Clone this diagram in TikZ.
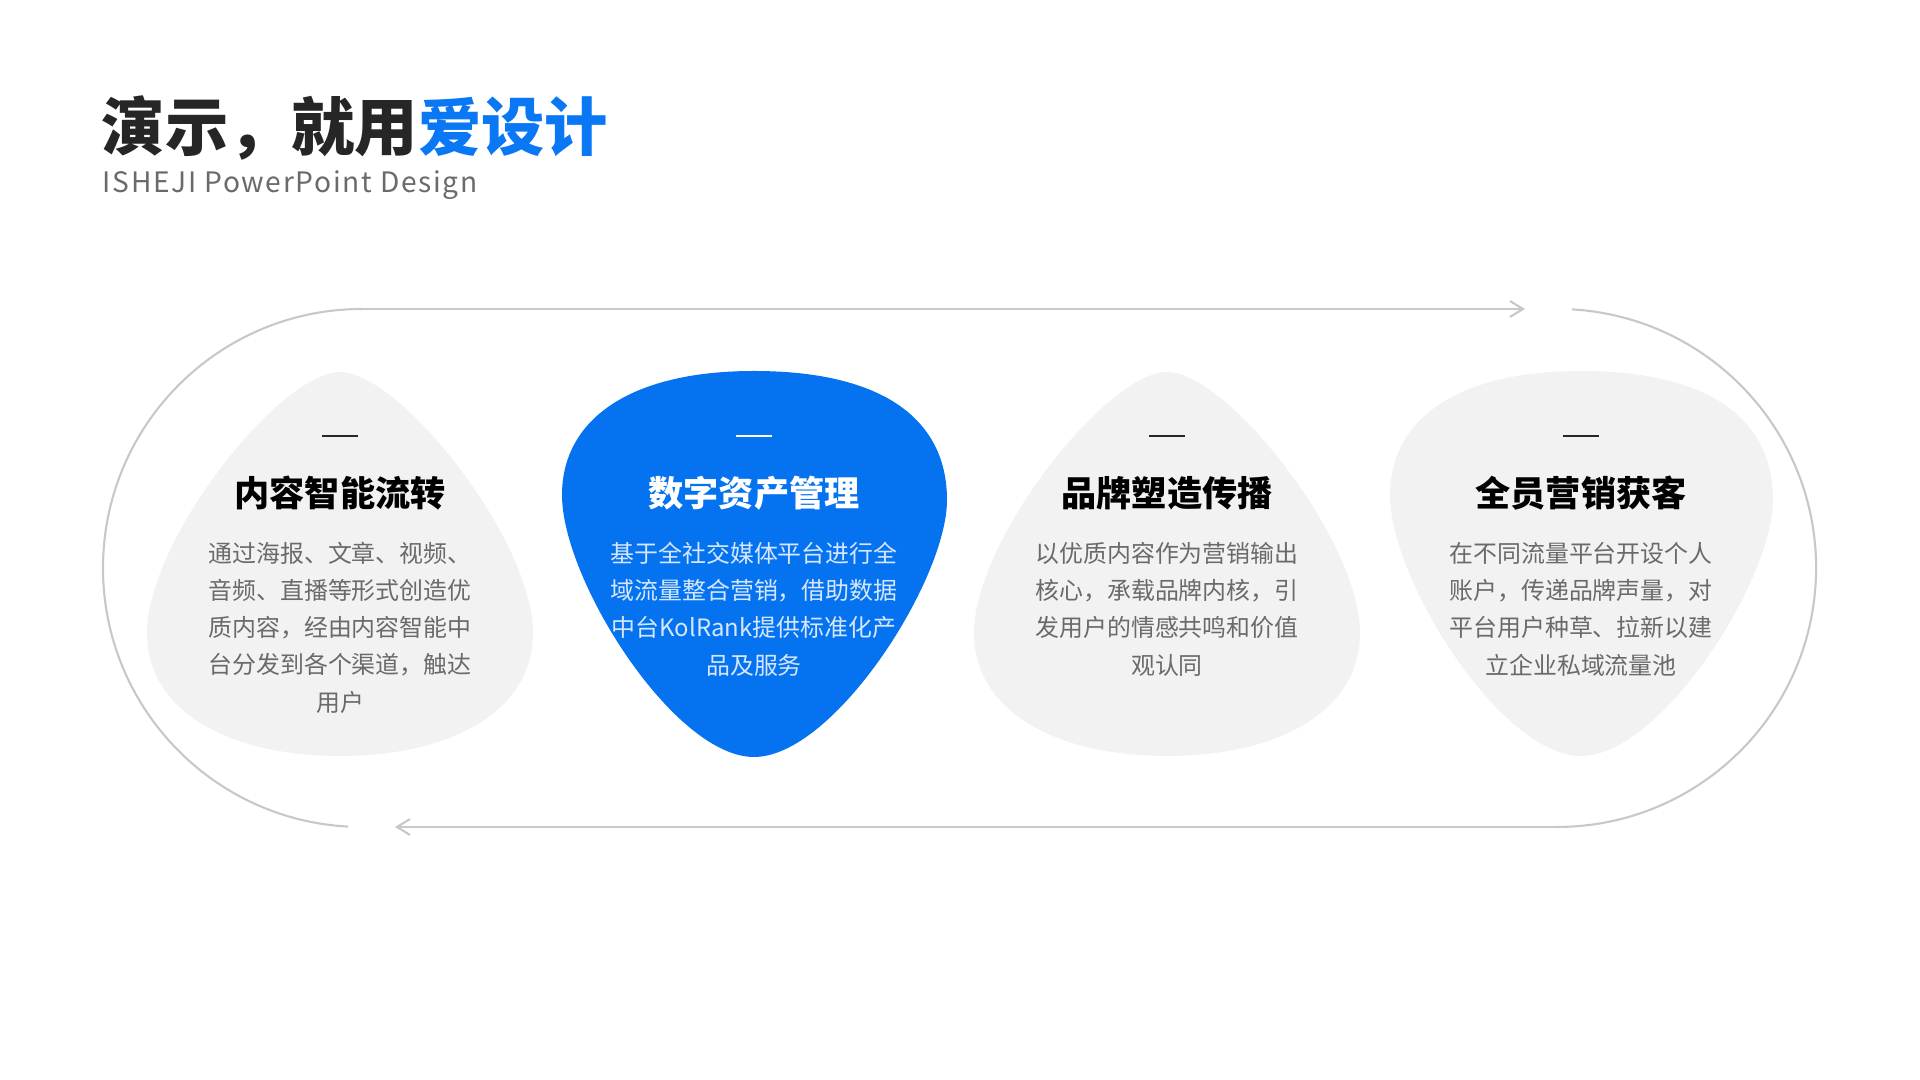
\documentclass[tikz,border=0pt]{standalone}
\usepackage{fontspec}
\setmainfont{Noto Sans CJK SC}
\usetikzlibrary{arrows.meta}
\definecolor{accent}{HTML}{0A78F5}
\definecolor{blobblue}{HTML}{0573F0}
\definecolor{blobgray}{HTML}{F2F2F2}
\definecolor{ringgray}{HTML}{C8C8C8}
\definecolor{ink}{HTML}{262626}
\definecolor{bodygray}{HTML}{6A6A6A}
\definecolor{bodylight}{HTML}{D6E7FD}
\begin{document}
\begin{tikzpicture}[x=0.01cm, y=-0.01cm,
    ring/.style = {draw=ringgray, line width=0.6pt},
    flow/.style = {ring, -{Straight Barb[length=0.13cm, width=0.16cm]}},
    head/.style = {inner sep=0, font=\fontsize{10pt}{12pt}\selectfont\bfseries},
    body/.style = {inner sep=0, align=center, font=\fontsize{6.8pt}{10.6pt}\selectfont},
    bar/.style = {line width=0.7pt}]
    \useasboundingbox (0,0) rectangle (1920,1080);
    \node[inner sep=0, anchor=base west, text=ink, font=\fontsize{18pt}{21pt}\selectfont\bfseries] (title) at (101,151) {演示，就用\textcolor{accent}{爱设计}};
    \node[inner sep=0, anchor=base west, text=bodygray, font=\fontsize{8pt}{10pt}\selectfont\addfontfeature{LetterSpace=6}] (subtitle) at (102,193) {ISHEJI PowerPoint Design};
    \coordinate (topl) at (362,309);
    \coordinate (topr) at (1525,309);
    \coordinate (arcr) at (1572,309.4);
    \coordinate (botr) at (1557,827);
    \coordinate (botl) at (395,827);
    \coordinate (arcl) at (348,826.6);
    \draw[flow] (topl) -- (topr);
    \draw[ring] (arcr) arc[start angle=-86.7, end angle=90, radius=259];
    \draw[flow] (botr) -- (botl);
    \draw[ring] (arcl) arc[start angle=93.1, end angle=270, radius=259];
    \begin{scope}[shift={(340,0)}]
        \fill[blobgray] (0,372) .. controls (60,372) and (193,540) .. (193,633) .. controls (193,712) and (110,756) .. (0,756) .. controls (-110,756) and (-193,712) .. (-193,633) .. controls (-193,540) and (-60,372) .. (0,372);
        \draw[bar, ink] (-18,436) -- (18,436);
    \end{scope}
    \begin{scope}[shift={(754,0)}]
        \fill[blobblue] (0,371) .. controls (130,371) and (193,420) .. (193,500) .. controls (193,580) and (80,757) .. (0,757) .. controls (-80,757) and (-192,580) .. (-192,495) .. controls (-192,420) and (-125,371) .. (0,371);
        \draw[bar, white] (-18,436) -- (18,436);
    \end{scope}
    \begin{scope}[shift={(1167,0)}]
        \fill[blobgray] (0,372) .. controls (60,372) and (193,540) .. (193,633) .. controls (193,712) and (110,756) .. (0,756) .. controls (-110,756) and (-193,712) .. (-193,633) .. controls (-193,540) and (-60,372) .. (0,372);
        \draw[bar, ink] (-18,436) -- (18,436);
    \end{scope}
    \begin{scope}[shift={(1581,0)}]
        \fill[blobgray] (0,371) .. controls (130,371) and (192,420) .. (192,500) .. controls (192,580) and (80,756) .. (0,756) .. controls (-80,756) and (-191,580) .. (-191,495) .. controls (-191,420) and (-125,371) .. (0,371);
        \draw[bar, ink] (-18,436) -- (18,436);
    \end{scope}
    \node[head, text=black] (h1) at (340,493) {内容智能流转};
    \node[head, text=white] (h2) at (754,493) {数字资产管理};
    \node[head, text=black] (h3) at (1167,493) {品牌塑造传播};
    \node[head, text=black] (h4) at (1581,493) {全员营销获客};
    \node[body, text=bodygray] (b1) at (340,627.5) {通过海报、文章、视频、\\音频、直播等形式创造优\\质内容，经由内容智能中\\台分发到各个渠道，触达\\用户};
    \node[body, text=bodylight] (b2) at (754,609) {基于全社交媒体平台进行全\\域流量整合营销，借助数据\\中台KolRank提供标准化产\\品及服务};
    \node[body, text=bodygray] (b3) at (1167,609) {以优质内容作为营销输出\\核心，承载品牌内核，引\\发用户的情感共鸣和价值\\观认同};
    \node[body, text=bodygray] (b4) at (1581,609) {在不同流量平台开设个人\\账户，传递品牌声量，对\\平台用户种草、拉新以建\\立企业私域流量池};
\end{tikzpicture}
\end{document}
